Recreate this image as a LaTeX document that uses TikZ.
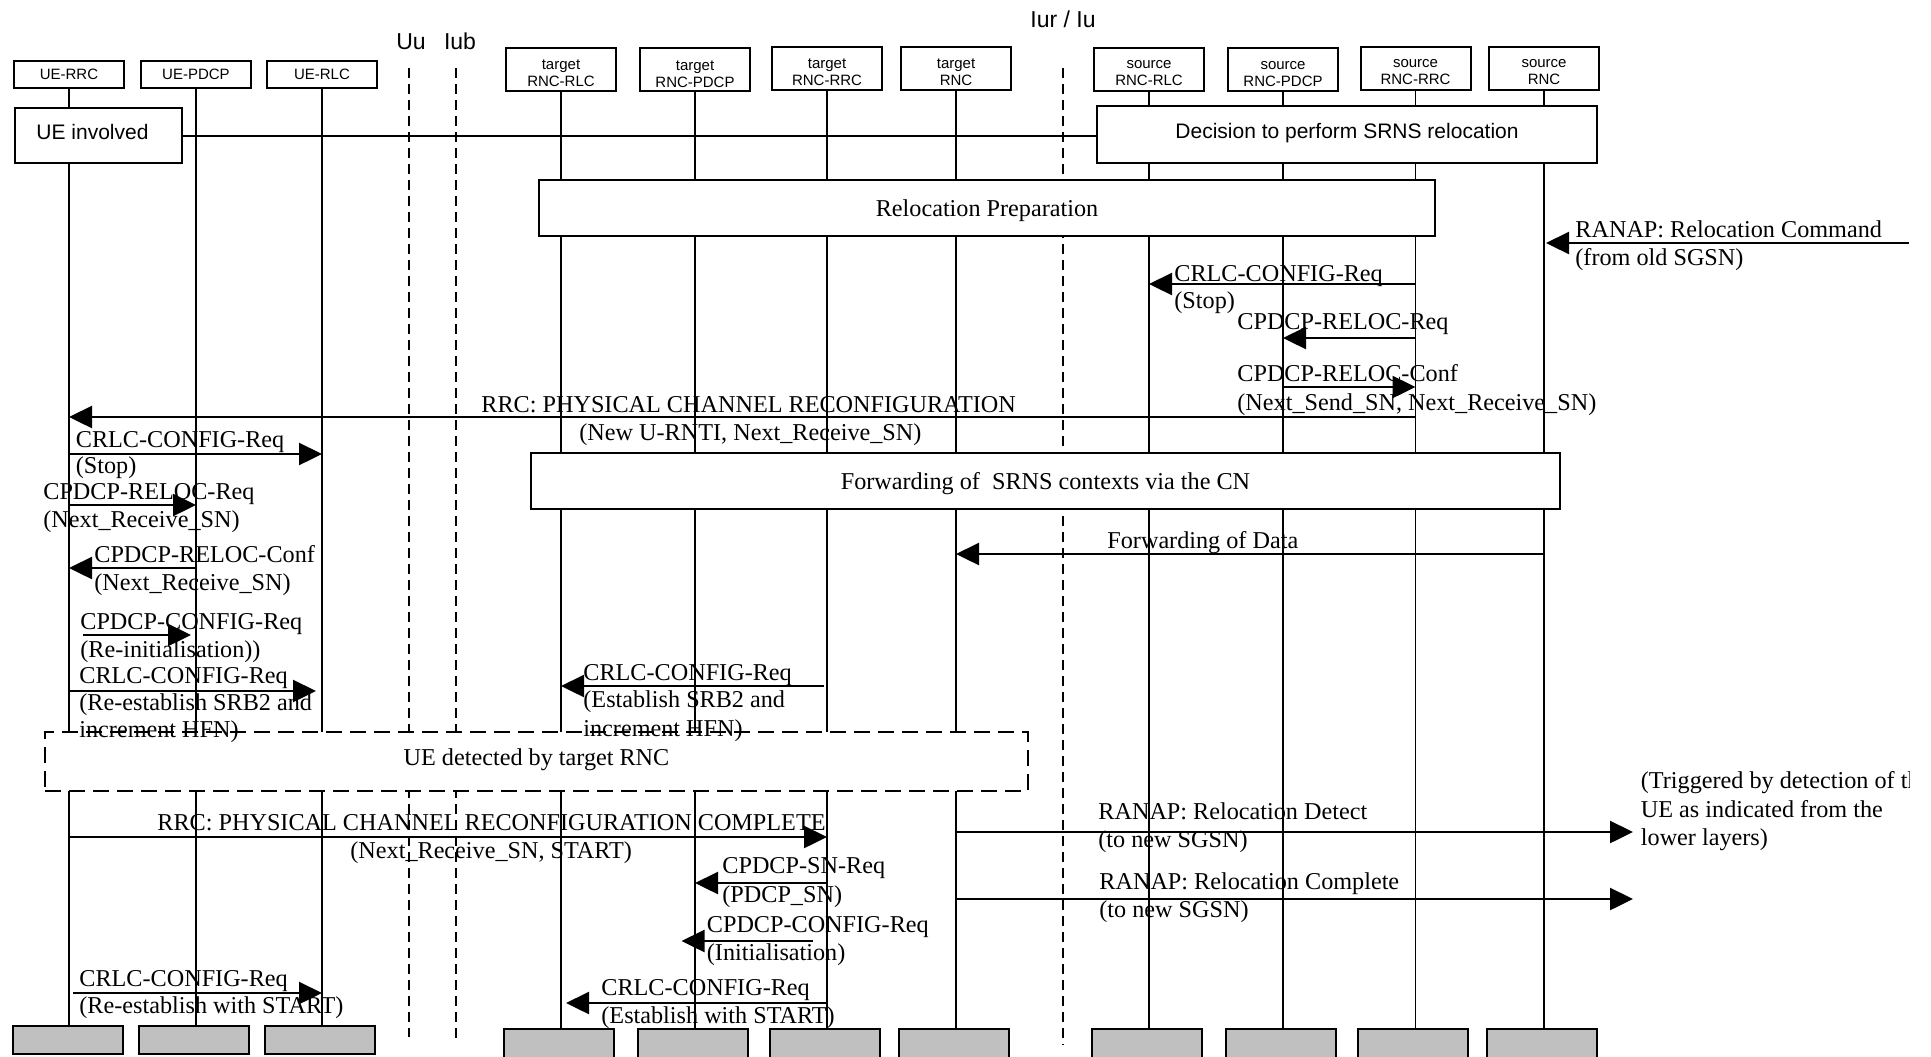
\documentclass[tikz,border=0pt]{standalone}
\usepackage{fontspec}
\setmainfont{Liberation Serif}
\setsansfont{Liberation Sans}
\usetikzlibrary{arrows.meta,calc}
\definecolor{footgray}{HTML}{C0C0C0}
\begin{document}
\begin{tikzpicture}[x=0.5pt,y=-0.5pt,
  hdr/.style={draw,line width=1pt,fill=white,minimum width=55pt,inner sep=0pt,align=center,font=\sffamily\fontsize{7.5}{8.5}\selectfont},
  hdrone/.style={hdr,minimum height=13.5pt},
  hdrtwo/.style={hdr,minimum height=21.5pt},
  hdrtxt/.style={inner sep=0pt,align=center,font=\sffamily\fontsize{7.5}{8.5}\selectfont},
  foot/.style={draw,line width=1pt,fill=footgray,minimum width=55pt,inner sep=0pt},
  life/.style={line width=0.6pt},
  iface/.style={line width=0.8pt,dash pattern=on 5pt off 3pt},
  box/.style={draw,line width=1pt,fill=white,inner sep=0pt},
  serifbox/.style={box,text depth=0pt,font=\fontsize{12.1}{13.5}\selectfont},
  sanstxt/.style={inner sep=0pt,text depth=0pt,font=\sffamily\fontsize{10.5}{12}\selectfont},
  msg/.style={line width=1.2pt,-{Triangle[length=11.5pt,width=11pt]}},
  lbl/.style={anchor=base west,inner sep=0pt,font=\fontsize{12.1}{13.5}\selectfont},
  ifl/.style={anchor=base,inner sep=0pt,font=\sffamily\fontsize{11.5}{13}\selectfont}
]
\useasboundingbox (0,0) rectangle (1931,1056);
\clip (0,0) rectangle (1931,1056);

% ---------- header boxes ----------
\node[hdrone] (uerrc) at (69,74.5) {UE-RRC};
\node[hdrone] (uepdcp) at (196,74.5) {UE-PDCP};
\node[hdrone] (uerlc) at (322,74.5) {UE-RLC};
\node[hdrtwo] (trlc) at (561,69.5) {};
\node[hdrtwo] (tpdcp) at (695,69.5) {};
\node[hdrtwo] (trrc) at (827,68.5) {};
\node[hdrtwo] (trnc) at (956,68.5) {};
\node[hdrtwo] (srlc) at (1149,69.5) {};
\node[hdrtwo] (spdcp) at (1283,69.5) {};
\node[hdrtwo] (srrc) at (1415.5,68.5) {};
\node[hdrtwo] (srnc) at (1544,68.5) {};
\node[hdrtxt] (trlcT) at (561,73) {target\\RNC-RLC};
\node[hdrtxt] (tpdcpT) at (695,74) {target\\RNC-PDCP};
\node[hdrtxt] (trrcT) at (827,72) {target\\RNC-RRC};
\node[hdrtxt] (trncT) at (956,72) {target\\RNC};
\node[hdrtxt] (srlcT) at (1149,73) {source\\RNC-RLC};
\node[hdrtxt] (spdcpT) at (1283,74) {source\\RNC-PDCP};
\node[hdrtxt] (srrcT) at (1415.5,72) {source\\RNC-RRC};
\node[hdrtxt] (srncT) at (1544,72) {source\\RNC};

% ---------- bottom boxes ----------
\node[foot,minimum height=14pt] (uerrcF) at (68,1040) {};
\node[foot,minimum height=14pt] (uepdcpF) at (193.5,1040) {};
\node[foot,minimum height=14pt] (uerlcF) at (320,1040) {};
\node[foot,minimum height=15pt] (trlcF) at (559,1044) {};
\node[foot,minimum height=15pt] (tpdcpF) at (693,1044) {};
\node[foot,minimum height=15pt] (trrcF) at (825,1044) {};
\node[foot,minimum height=15pt] (trncF) at (953.5,1044) {};
\node[foot,minimum height=15pt] (srlcF) at (1147,1044) {};
\node[foot,minimum height=15pt] (spdcpF) at (1281,1044) {};
\node[foot,minimum height=15pt] (srrcF) at (1413,1044) {};
\node[foot,minimum height=15pt] (srncF) at (1542,1044) {};

% ---------- lifelines ----------
\foreach \n in {uerrc,uepdcp,uerlc,trlc,tpdcp,trrc,trnc,srlc,spdcp,srrc,srnc}{
  \draw[life] (\n.south) -- (\n |- \n F.north);
}

% ---------- interfaces ----------
\coordinate (uuT) at (409,68);  \coordinate (uuB) at (409,1037);
\coordinate (iubT) at (456,68); \coordinate (iubB) at (456,1043);
\coordinate (iurT) at (1063,68); \coordinate (iurB) at (1063,1045);
\draw[iface] (uuT) -- (uuB);
\draw[iface] (iubT) -- (iubB);
\draw[iface] (iurT) -- (iurB);
\node[ifl] (uuL) at (411,49) {Uu};
\node[ifl] (iubL) at (460,49) {Iub};
\node[ifl] (iurL) at (1063,27) {Iur / Iu};

% ---------- activity boxes ----------
\node[box,minimum width=83.5pt,minimum height=27.5pt] (ueinv) at (98.5,135.5) {};
\node[sanstxt] (ueinvT) at (92.5,131.5) {UE involved};
\node[box,minimum width=250pt,minimum height=28.5pt] (decide) at (1347,134.5) {};
\node[sanstxt] (decideT) at (1347,130.5) {Decision to perform SRNS relocation};
\draw[line width=1pt] (ueinv.east) -- (ueinv.east -| decide.west);
\node[serifbox,minimum width=448pt,minimum height=28pt] (relprep) at (987,208) {Relocation Preparation};
\node[serifbox,minimum width=514.5pt,minimum height=28pt] (fwdctx) at (1045.5,481) {Forwarding of\ \ SRNS contexts via the CN};
\node[box,line width=1.2pt,dash pattern=on 8pt off 4pt,minimum width=491.5pt,minimum height=29.5pt] (uedet) at (536.5,761.5) {};
\node[serifbox,draw=none,fill=none] (uedetT) at (536.5,757.5) {UE detected by target RNC};

% ---------- messages ----------
\coordinate (sgsnOld) at (1909,243);
\draw[msg] (sgsnOld) -- ($(srnc |- sgsnOld)+(2,0)$);
\node[lbl] (m1a) at (1575,237) {RANAP: Relocation Command};
\node[lbl] (m1b) at (1575,265) {(from old SGSN)};

\draw[msg] (srrc |- 0,284) -- (srlc |- 0,284);
\node[lbl] (m2a) at (1174,281) {CRLC-CONFIG-Req};
\node[lbl] (m2b) at (1174,308) {(Stop)};

\draw[msg] (srrc |- 0,338) -- (spdcp |- 0,338);
\node[lbl] (m3a) at (1237,329) {CPDCP-RELOC-Req};

\draw[msg] (spdcp |- 0,387) -- (srrc |- 0,387);
\node[lbl] (m4a) at (1237,381) {CPDCP-RELOC-Conf};
\node[lbl] (m4b) at (1237,410) {(Next\_Send\_SN, Next\_Receive\_SN)};

\draw[msg] (srrc |- 0,417) -- (uerrc |- 0,417);
\node[lbl] (m5a) at (481,412) {RRC: PHYSICAL CHANNEL RECONFIGURATION};
\node[lbl] (m5b) at (579,440) {(New U-RNTI, Next\_Receive\_SN)};

\draw[msg] (uerrc |- 0,454) -- (uerlc |- 0,454);
\node[lbl] (m6a) at (75.5,447) {CRLC-CONFIG-Req};
\node[lbl] (m6b) at (75.5,473) {(Stop)};

\draw[msg] (uerrc |- 0,505) -- (uepdcp |- 0,505);
\node[lbl] (m7a) at (43,499) {CPDCP-RELOC-Req};
\node[lbl] (m7b) at (43,527) {(Next\_Receive\_SN)};

\draw[msg] (uepdcp |- 0,568) -- (uerrc |- 0,568);
\node[lbl] (m8a) at (94,562) {CPDCP-RELOC-Conf};
\node[lbl] (m8b) at (94,590) {(Next\_Receive\_SN)};

\draw[msg] ($(uerrc |- 0,635)+(14,0)$) -- ($(uepdcp |- 0,635)+(-5,0)$);
\node[lbl] (m9a) at (80,629) {CPDCP-CONFIG-Req};
\node[lbl] (m9b) at (80,657) {(Re-initialisation))};

\draw[msg] (uerrc |- 0,691) -- ($(uerlc |- 0,691)+(-6,0)$);
\node[lbl] (m10a) at (79,683) {CRLC-CONFIG-Req};
\node[lbl] (m10b) at (79,710) {(Re-establish SRB2 and};
\node[lbl] (m10c) at (79,737) {increment HFN)};

\draw[msg] ($(trrc |- 0,686)+(-3,0)$) -- (trlc |- 0,686);
\node[lbl] (m11a) at (583,680) {CRLC-CONFIG-Req};
\node[lbl] (m11b) at (583,707) {(Establish SRB2 and};
\node[lbl] (m11c) at (583,736) {increment HFN)};

\draw[msg] (srnc |- 0,554) -- (trnc |- 0,554);
\node[lbl] (m12a) at (1107,548) {Forwarding of Data};

\draw[msg] (uerrc |- 0,837) -- (trrc |- 0,837);
\node[lbl] (m13a) at (157,830) {RRC: PHYSICAL CHANNEL RECONFIGURATION COMPLETE};
\node[lbl] (m13b) at (350,858) {(Next\_Receive\_SN, START)};

\draw[msg] (trrc |- 0,883) -- (tpdcp |- 0,883);
\node[lbl] (m14a) at (722,873) {CPDCP-SN-Req};
\node[lbl] (m14b) at (722,902) {(PDCP\_SN)};

\draw[msg] ($(trrc |- 0,941)+(-14.5,0)$) -- ($(tpdcp |- 0,941)+(-13.5,0)$);
\node[lbl] (m15a) at (706.5,932) {CPDCP-CONFIG-Req};
\node[lbl] (m15b) at (706.5,960) {(Initialisation)};

\draw[msg] (trrc |- 0,1003) -- ($(trlc |- 0,1003)+(5,0)$);
\node[lbl] (m16a) at (601,995) {CRLC-CONFIG-Req};
\node[lbl] (m16b) at (601,1023) {(Establish with START)};

\draw[msg] ($(uerrc |- 0,993)+(4,0)$) -- (uerlc |- 0,993);
\node[lbl] (m17a) at (79,986) {CRLC-CONFIG-Req};
\node[lbl] (m17b) at (79,1013) {(Re-establish with START)};

\coordinate (sgsnNewA) at (1633,832);
\draw[msg] (trnc |- sgsnNewA) -- (sgsnNewA);
\node[lbl] (m18a) at (1098,819) {RANAP: Relocation Detect};
\node[lbl] (m18b) at (1098,847) {(to new SGSN)};

\coordinate (sgsnNewB) at (1633,899);
\draw[msg] (trnc |- sgsnNewB) -- (sgsnNewB);
\node[lbl] (m19a) at (1099,889) {RANAP: Relocation Complete};
\node[lbl] (m19b) at (1099,917) {(to new SGSN)};

\begin{scope}
\clip (0,0) rectangle (1909,1056);
\node[lbl] (trga) at (1640.5,788) {(Triggered by detection of the};
\end{scope}
\node[lbl] (trgb) at (1640.5,817) {UE as indicated from the};
\node[lbl] (trgc) at (1640.5,845) {lower layers)};
\end{tikzpicture}
\end{document}
